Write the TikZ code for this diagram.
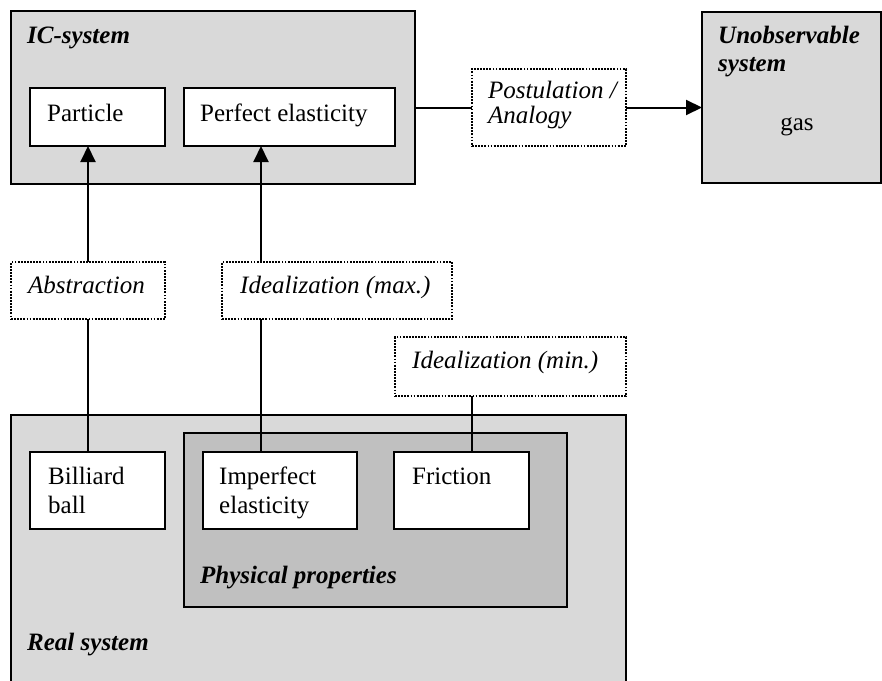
\documentclass[tikz,border=0pt]{standalone}
\usepackage{fontspec}
\setmainfont{Liberation Serif}
\usetikzlibrary{arrows.meta}
\definecolor{panel}{HTML}{D9D9D9}
\definecolor{inner}{HTML}{C0C0C0}
\begin{document}
\begin{tikzpicture}[x=1pt,y=-1pt,
  every node/.style={font=\fontsize{25}{29}\selectfont},
  boxbase/.style={rectangle, inner sep=0pt, outer sep=0pt, line width=2pt},
  panelbox/.style={boxbase, draw=black, fill=panel},
  innerbox/.style={boxbase, draw=black, fill=inner},
  itembox/.style={boxbase, draw=black, fill=white},
  opbox/.style={boxbase, draw=black, fill=white, line width=1.8pt, dash pattern=on 1.8pt off 1.3pt},
  lbl/.style={anchor=base west, inner sep=0pt},
  title/.style={lbl, font=\fontsize{25}{28.5}\selectfont\bfseries\itshape},
  link/.style={line width=2pt},
  arr/.style={link, -{Triangle[length=16pt,width=15pt]}}]
\useasboundingbox (0,0) rectangle (882,680);

% containers
\node[panelbox, minimum width=404pt, minimum height=173pt] (ic) at (213,97.5) {};
\node[panelbox, minimum width=179pt, minimum height=171pt] (unobs) at (791.5,97.5) {};
\node[panelbox, minimum width=615pt, minimum height=275pt] (real) at (318.5,552.5) {};
\node[innerbox, minimum width=383pt, minimum height=174pt] (phys) at (375.5,520) {};

% concept boxes
\node[itembox, minimum width=135pt, minimum height=58pt] (particle) at (97.5,117) {};
\node[itembox, minimum width=211pt, minimum height=58pt] (perfect) at (289.5,117) {};
\node[itembox, minimum width=135pt, minimum height=77pt] (billiard) at (97.5,490.5) {};
\node[itembox, minimum width=154pt, minimum height=77pt] (imperfect) at (280,490.5) {};
\node[itembox, minimum width=135pt, minimum height=77pt] (friction) at (461.5,490.5) {};

% operation boxes
\node[opbox, minimum width=154pt, minimum height=77pt] (post) at (549,107.5) {};
\node[opbox, minimum width=154pt, minimum height=57pt] (abstr) at (88,290.5) {};
\node[opbox, minimum width=230pt, minimum height=57pt] (idmax) at (337,290.5) {};
\node[opbox, minimum width=231pt, minimum height=59pt] (idmin) at (510.5,366.5) {};

% labels
\node[title] (tic) at (27,43) {IC-system};
\node[title] (tunobs) at (718,43) {\parbox[t]{150pt}{\fontsize{25}{28.5}\selectfont Unobservable\\system}};
\node[anchor=base, inner sep=0pt] (tgas) at (797,130) {gas};
\node[title] (treal) at (27,650) {Real system};
\node[title] (tphys) at (200,583) {Physical properties};

\node[lbl] (tparticle) at (47,121) {Particle};
\node[lbl] (tperfect) at (200,121) {Perfect elasticity};
\node[lbl] (tbilliard) at (48,484) {\parbox[t]{120pt}{\fontsize{25}{29}\selectfont Billiard\\ball}};
\node[lbl] (timperfect) at (219,484) {\parbox[t]{140pt}{\fontsize{25}{29}\selectfont Imperfect\\elasticity}};
\node[lbl] (tfriction) at (412,484) {Friction};

\node[lbl, font=\fontsize{25}{29}\selectfont\itshape] (tpost) at (488,98) {\parbox[t]{140pt}{\fontsize{25}{25}\selectfont Postulation /\\Analogy}};
\node[lbl, font=\fontsize{25}{29}\selectfont\itshape] (tabstr) at (28,293) {Abstraction};
\node[lbl, font=\fontsize{25}{29}\selectfont\itshape] (tidmax) at (240,293) {Idealization (max.)};
\node[lbl, font=\fontsize{25}{29}\selectfont\itshape] (tidmin) at (412,368) {Idealization (min.)};

% vertical connector tracks
\coordinate (vx) at (261,0);
\coordinate (fx) at (472,0);

% connectors
\draw[arr] (abstr.north) -- (abstr.north |- particle.south);
\draw[link] (billiard.north -| abstr.north) -- (abstr.south);
\draw[arr] (idmax.north -| vx) -- (perfect.south -| vx);
\draw[link] (imperfect.north -| vx) -- (idmax.south -| vx);
\draw[link] (friction.north -| fx) -- (idmin.south -| fx);
\draw[link] (ic.east |- post.west) -- (post.west);
\draw[arr] (post.east) -- (unobs.west |- post.east);
\end{tikzpicture}
\end{document}
